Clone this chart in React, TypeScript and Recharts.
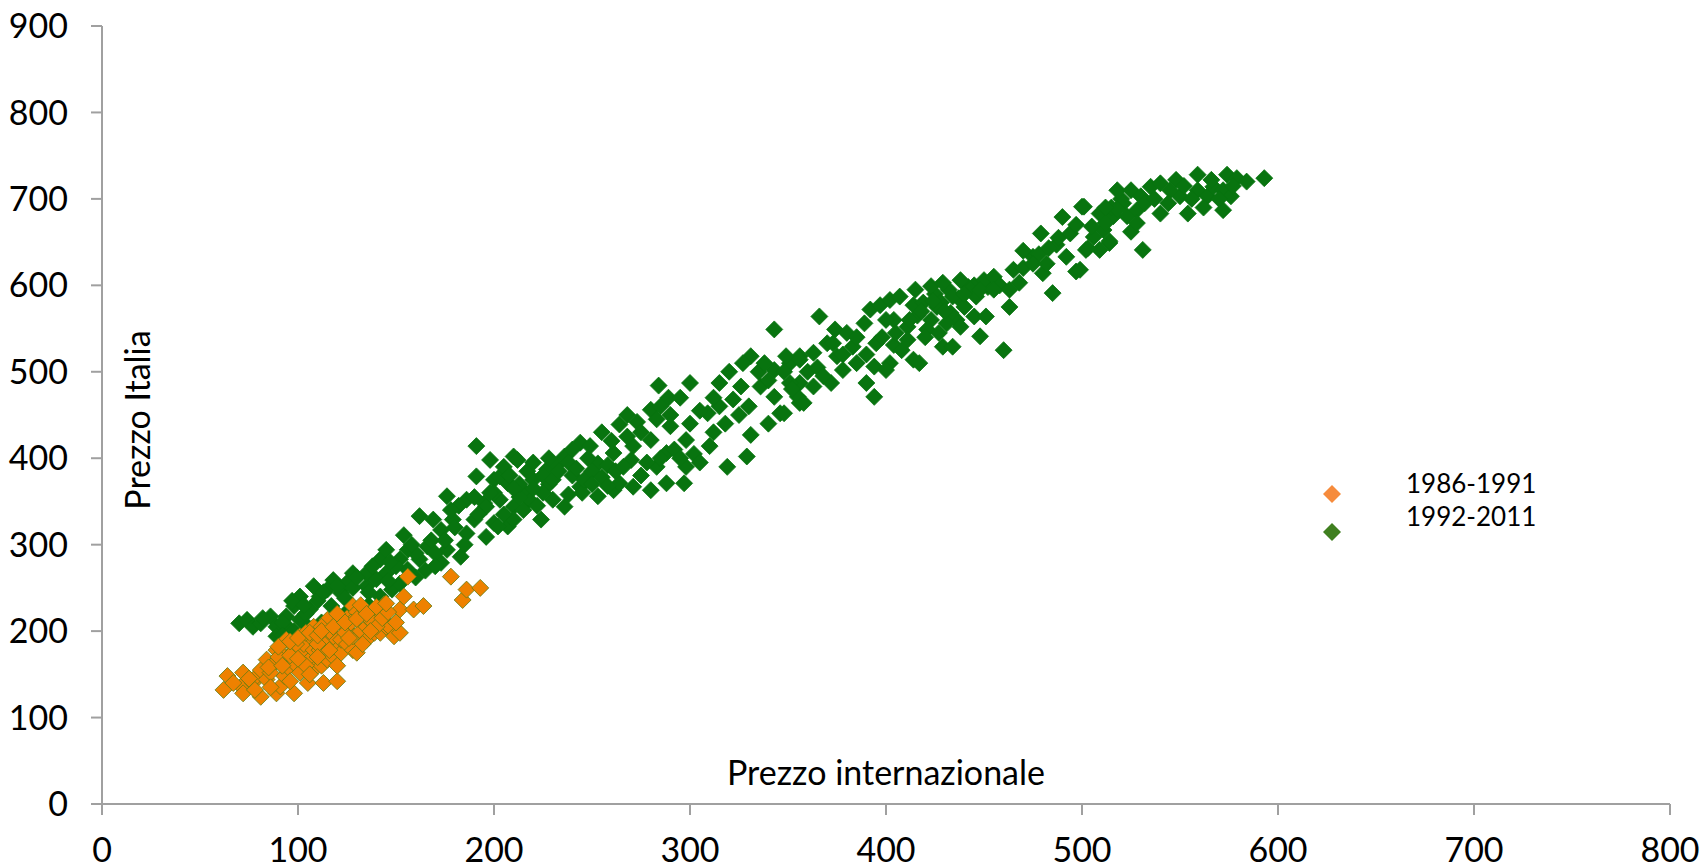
import { Label, Legend, Scatter, ScatterChart, XAxis, YAxis } from "recharts";

// Period labels, in legend order.
const PERIODS = ["1986-1991", "1992-2011"];

// Axis ticks (both axes start at 0, step 100).
const X_TICKS = [0, 100, 200, 300, 400, 500, 600, 700, 800];
const Y_TICKS = [0, 100, 200, 300, 400, 500, 600, 700, 800, 900];

// [prezzo internazionale, prezzo Italia].
const POINTS_1986_1991: [number, number][] = [
  [62, 132], [64, 148], [71, 136], [72, 128], [72, 152], [77, 140], [79, 148], [81, 124],
  [81, 155], [84, 144], [84, 167], [88, 163], [89, 128], [89, 178], [91, 136], [93, 148],
  [93, 171], [94, 190], [95, 158], [98, 128], [98, 163], [98, 178], [101, 152], [101, 175],
  [101, 194], [103, 185], [105, 140], [106, 167], [108, 155], [108, 178], [108, 190], [108, 205],
  [111, 178], [112, 160], [113, 140], [115, 167], [115, 190], [115, 213], [118, 170], [118, 182],
  [118, 194], [120, 142], [122, 175], [122, 190], [122, 209], [125, 185], [125, 202], [125, 215],
  [128, 178], [128, 194], [128, 229], [130, 175], [130, 222], [132, 200], [135, 190], [135, 205],
  [138, 210], [139, 198], [140, 220], [142, 198], [144, 231], [145, 205], [147, 204], [149, 194],
  [152, 198], [152, 225], [154, 240], [156, 263], [159, 225], [164, 229], [178, 263], [184, 236],
  [186, 248], [193, 250], [67, 140], [75, 145], [86, 152], [90, 170], [96, 172], [99, 185],
  [104, 160], [106, 150], [110, 185], [116, 200], [120, 160], [124, 198], [127, 210], [133, 185],
  [136, 215], [140, 205], [143, 215], [146, 222], [150, 210], [96, 142], [86, 135], [78, 132],
  [104, 198], [112, 205], [120, 220], [132, 230], [90, 182], [96, 188], [100, 192], [106, 198],
  [110, 195], [112, 200], [118, 205], [124, 210], [130, 214], [135, 220], [140, 228], [145, 232],
  [85, 158], [92, 160], [100, 168], [110, 170], [116, 178], [126, 192], [137, 200],
];

const POINTS_1992_2011: [number, number][] = [
  [70, 209], [74, 213], [77, 205], [81, 209], [86, 217], [89, 205], [94, 217], [96, 202],
  [89, 194], [101, 213], [101, 194], [98, 229], [106, 225], [117, 229], [101, 240], [111, 240],
  [122, 244], [108, 252], [118, 259], [125, 256], [135, 252], [128, 267], [135, 267], [145, 267],
  [156, 271], [142, 283], [152, 283], [162, 283], [173, 279], [145, 294], [156, 294], [166, 298],
  [176, 294], [183, 286], [154, 311], [162, 333], [169, 329], [179, 329], [190, 329], [200, 325],
  [207, 321], [173, 317], [186, 313], [196, 309], [176, 356], [186, 352], [195, 348], [203, 352],
  [210, 344], [191, 379], [200, 375], [207, 371], [191, 414], [198, 398], [210, 402], [212, 398],
  [203, 379], [218, 352], [196, 344], [202, 321], [210, 329], [224, 329], [220, 375], [227, 387],
  [236, 402], [244, 418], [249, 414], [253, 394], [244, 367], [236, 344], [253, 356], [261, 363],
  [261, 406], [264, 371], [264, 439], [270, 398], [271, 367], [271, 414], [273, 442], [280, 456],
  [280, 421], [280, 363], [283, 390], [288, 371], [288, 406], [289, 470], [290, 437], [297, 371],
  [298, 390], [298, 421], [300, 487], [309, 452], [310, 414], [315, 460], [315, 487], [319, 390],
  [322, 468], [326, 483], [329, 402], [331, 518], [331, 427], [336, 483], [343, 549], [343, 502],
  [343, 471], [346, 452], [351, 510], [356, 518], [356, 464], [363, 522], [215, 340], [222, 345],
  [230, 352], [238, 358], [245, 360], [228, 370], [215, 362], [240, 380], [250, 385], [232, 392],
  [258, 392], [225, 360], [205, 335], [213, 355], [255, 430], [268, 450], [285, 460], [290, 450],
  [295, 470], [284, 484], [349, 518], [356, 514], [370, 533], [375, 518], [378, 502], [372, 487],
  [363, 483], [356, 487], [351, 487], [355, 471], [358, 464], [348, 452], [366, 564], [374, 549],
  [373, 533], [383, 529], [392, 572], [397, 577], [389, 556], [402, 583], [407, 587], [414, 577],
  [404, 560], [411, 552], [395, 533], [404, 531], [411, 537], [414, 514], [417, 510], [394, 506],
  [402, 510], [390, 487], [394, 471], [400, 502], [416, 565], [419, 580], [425, 590], [432, 595],
  [437, 585], [442, 598], [428, 580], [445, 600], [452, 598], [436, 560], [412, 560], [423, 599],
  [429, 603], [438, 606], [443, 595], [434, 587], [426, 575], [433, 568], [423, 560], [440, 575],
  [446, 587], [450, 606], [455, 610], [445, 564], [451, 564], [438, 552], [431, 556], [421, 549],
  [448, 541], [429, 529], [434, 529], [460, 525], [458, 600], [463, 575], [463, 595], [468, 603],
  [465, 618], [470, 620], [480, 614], [475, 633], [478, 636], [485, 591], [497, 616], [492, 633],
  [487, 647], [502, 641], [509, 641], [514, 649], [479, 660], [483, 643], [490, 679], [500, 691],
  [499, 618], [503, 643], [506, 656], [511, 664], [514, 651], [516, 680], [509, 683], [501, 691],
  [520, 700], [515, 690], [523, 680], [525, 662], [531, 641], [518, 710], [525, 710], [530, 703],
  [521, 695], [528, 687], [535, 714], [540, 718], [540, 683], [548, 722], [550, 703], [554, 683],
  [559, 728], [559, 710], [564, 703], [567, 714], [572, 710], [572, 687], [574, 728], [576, 703],
  [579, 724], [593, 724],
  // denser parts of the cloud
  [200, 360], [205, 390], [208, 380], [213, 370], [217, 385], [220, 395], [225, 380], [230, 375],
  [233, 385], [238, 395], [242, 388], [246, 375], [250, 370], [255, 378], [258, 368], [262, 385],
  [266, 390], [275, 380], [278, 395], [285, 400], [292, 410], [295, 400], [302, 405], [305, 395],
  [268, 425], [275, 430], [283, 445], [260, 420], [248, 400], [240, 410], [228, 400], [220, 365],
  [210, 365], [198, 360], [190, 355], [182, 345], [178, 340], [115, 248], [128, 250], [140, 260],
  [150, 275], [160, 290], [168, 305], [175, 305], [180, 320], [185, 300], [192, 335], [170, 290],
  [158, 300], [147, 280], [138, 275], [130, 262], [120, 252], [110, 235], [104, 220], [92, 210],
  [82, 215], [300, 440], [305, 455], [312, 470], [318, 440], [325, 450], [330, 460], [335, 500],
  [338, 510], [340, 490], [348, 500], [352, 480], [360, 500], [365, 505], [368, 495], [320, 500],
  [327, 510], [312, 430], [340, 440], [380, 545], [385, 540], [390, 520], [398, 540], [405, 545],
  [408, 525], [385, 510], [378, 520], [400, 560], [418, 570], [424, 582], [430, 570], [440, 590],
  [448, 595], [455, 595], [415, 595], [420, 540], [427, 545], [470, 640], [475, 625], [482, 625],
  [488, 655], [494, 660], [497, 670], [505, 668], [512, 672], [518, 688], [532, 695], [537, 700],
  [545, 710], [552, 715], [556, 700], [562, 690], [570, 700], [577, 715], [584, 720], [566, 722],
  [544, 695], [528, 672], [512, 690],
  // lower edge of the band, where it meets the 1986-1991 points
  [92, 195], [98, 200], [105, 205], [112, 210], [118, 213], [124, 220], [130, 225], [136, 230],
  [142, 240], [148, 248], [152, 255], [160, 262], [165, 270], [97, 235], [103, 230], [113, 245],
  [124, 238], [136, 245], [146, 258], [170, 275],
];

const ORANGE = "#ee8100";
const GREEN = "#08740f";
const LEGEND_ORANGE = "#f68b3c";
const LEGEND_GREEN = "#3f7f1f";
const AXIS = "#a0a0a0";
const FONT = "Lato, 'Open Sans', sans-serif";

const toXY = (pts: [number, number][]) => pts.map(([x, y]) => ({ x, y }));

// Excel-style diamond: a square turned 45 degrees.
function diamond(fill: string, stroke: string, r: number) {
  return (props: any) => {
    const { cx, cy } = props;
    if (cx == null || cy == null) return <g />;
    return (
      <polygon
        points={`${cx},${cy - r} ${cx + r},${cy} ${cx},${cy + r} ${cx - r},${cy}`}
        fill={fill}
        stroke={stroke}
        strokeWidth={0.8}
      />
    );
  };
}

function renderLegend() {
  const r = 9;
  return (
    <svg width={240} height={80} style={{ overflow: "visible" }}>
      <polygon points={`22,${24 - r} ${22 + r},24 22,${24 + r} ${22 - r},24`} fill={LEGEND_ORANGE} />
      <polygon points={`22,${62 - r} ${22 + r},62 22,${62 + r} ${22 - r},62`} fill={LEGEND_GREEN} />
      <text x={96} y={23} fontFamily={FONT} fontSize={26} fill="#000">
        {PERIODS[0]}
      </text>
      <text x={96} y={56} fontFamily={FONT} fontSize={26} fill="#000">
        {PERIODS[1]}
      </text>
    </svg>
  );
}

export default function App() {
  const tick = { fontFamily: FONT, fontSize: 34, fill: "#000" };
  return (
    <div style={{ position: "absolute", left: 0, top: 0, background: "#fff" }}>
      <ScatterChart width={1704} height={868} margin={{ top: 26, right: 34, bottom: 0, left: 0 }}>
        <XAxis
          type="number"
          dataKey="x"
          domain={[0, 800]}
          ticks={X_TICKS}
          interval={0}
          height={64}
          tick={tick}
          tickSize={11}
          tickMargin={23}
          axisLine={{ stroke: AXIS, strokeWidth: 2 }}
          tickLine={{ stroke: AXIS, strokeWidth: 2 }}
        >
          <Label
            content={(p: any) => {
              const vb = p.viewBox;
              return (
                <text x={vb.x + vb.width / 2} y={vb.y - 19} textAnchor="middle" fontFamily={FONT} fontSize={34} fill="#000">
                  Prezzo internazionale
                </text>
              );
            }}
          />
        </XAxis>
        <YAxis
          type="number"
          dataKey="y"
          domain={[0, 900]}
          ticks={Y_TICKS}
          interval={0}
          width={102}
          tick={tick}
          tickSize={11}
          tickMargin={23}
          axisLine={{ stroke: AXIS, strokeWidth: 2 }}
          tickLine={{ stroke: AXIS, strokeWidth: 2 }}
        >
          <Label
            content={(p: any) => {
              const vb = p.viewBox;
              const lx = vb.x + vb.width + 48;
              const ly = vb.y + vb.height / 2 + 5;
              return (
                <text
                  x={lx}
                  y={ly}
                  textAnchor="middle"
                  transform={`rotate(-90 ${lx} ${ly})`}
                  fontFamily={FONT}
                  fontSize={34}
                  fill="#000"
                >
                  Prezzo Italia
                </text>
              );
            }}
          />
        </YAxis>
        {/* middle/center so the legend takes no room from the plot */}
        <Legend
          content={renderLegend}
          layout="horizontal"
          verticalAlign="middle"
          align="center"
          wrapperStyle={{ position: "absolute", left: 1310, top: 470, width: 240, height: 80 }}
        />
        <Scatter
          name={PERIODS[1]}
          data={toXY(POINTS_1992_2011)}
          shape={diamond(GREEN, GREEN, 8.5)}
          isAnimationActive={false}
        />
        <Scatter
          name={PERIODS[0]}
          data={toXY(POINTS_1986_1991)}
          shape={diamond(ORANGE, "#5e7d12", 8.5)}
          isAnimationActive={false}
        />
      </ScatterChart>
    </div>
  );
}
